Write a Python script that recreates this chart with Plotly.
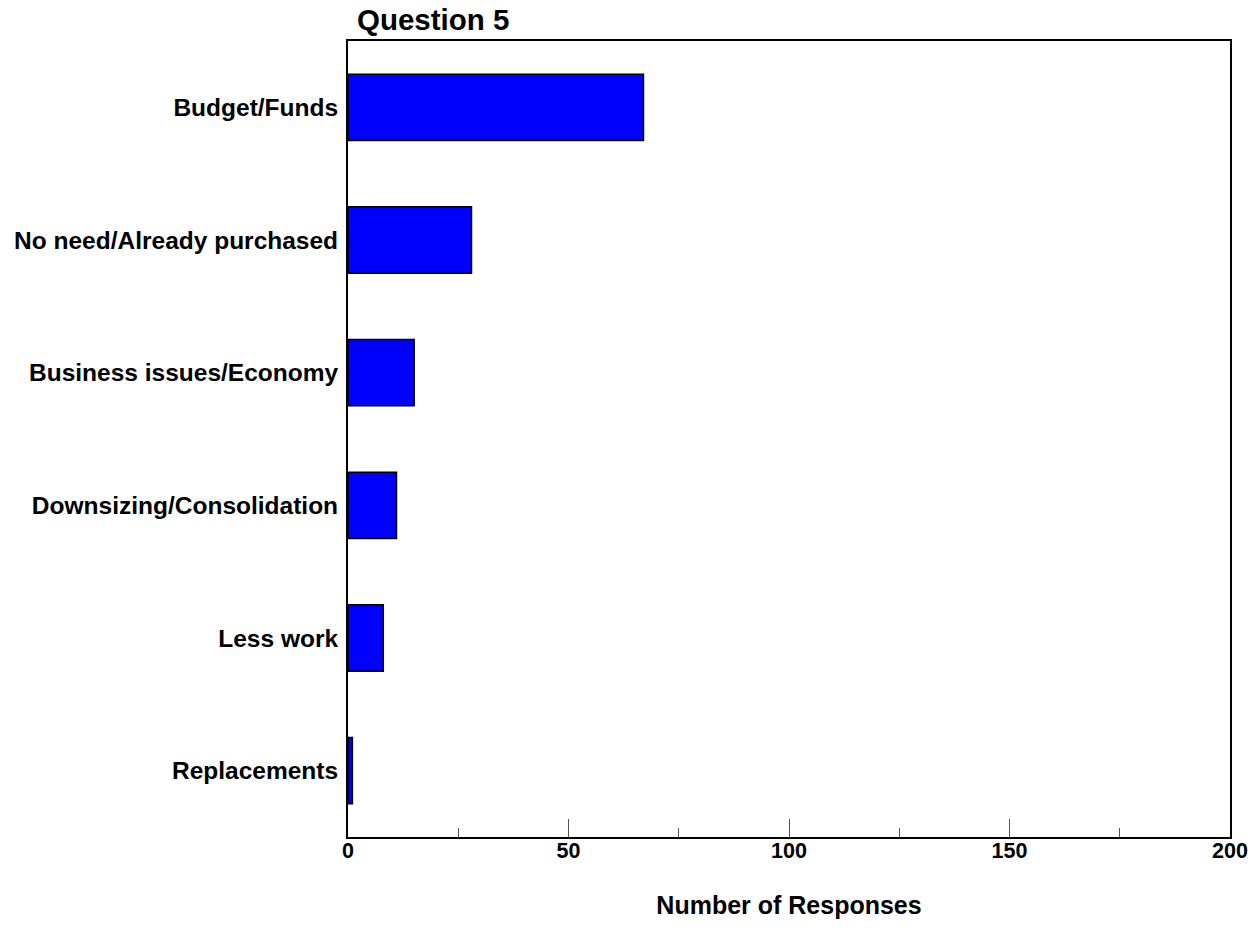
import plotly.graph_objects as go

categories = [
    "Budget/Funds",
    "No need/Already purchased",
    "Business issues/Economy",
    "Downsizing/Consolidation",
    "Less work",
    "Replacements",
]
responses = [67, 28, 15, 11, 8, 1]
x_ticks = [0, 50, 100, 150, 200]

font_family = "Liberation Sans, Arial, sans-serif"

fig = go.Figure(
    go.Bar(
        x=responses,
        y=categories,
        orientation="h",
        width=0.5,
        marker=dict(color="#0000FF", line=dict(color="black", width=1.5)),
    )
)

fig.update_layout(
    width=1258,
    height=948,
    margin=dict(l=348, r=28, t=41, b=111),
    plot_bgcolor="white",
    paper_bgcolor="white",
    showlegend=False,
    font=dict(family=font_family, color="black"),
    title=dict(
        text="<b>Question 5</b>",
        x=357 / 1258,
        xanchor="left",
        y=1 - 20 / 948,
        yanchor="middle",
        font=dict(size=29.5, family=font_family, color="black"),
    ),
)

fig.update_xaxes(
    range=[0, 200],
    tickvals=x_ticks,
    ticktext=[f"<b>{v}</b>" for v in x_ticks],
    tickfont=dict(size=21.5, family=font_family, color="black"),
    ticks="inside",
    ticklen=18,
    tickwidth=1,
    tickcolor="#555555",
    minor=dict(ticks="inside", ticklen=9, dtick=25, tick0=0, tickcolor="#555555", tickwidth=1, showgrid=False),
    ticklabelstandoff=-7,
    automargin=False,
    showgrid=False,
    zeroline=False,
    showline=True,
    linecolor="black",
    linewidth=2,
    mirror=True,
    title=dict(
        text="<b>Number of Responses</b>",
        font=dict(size=25, family=font_family, color="black"),
        standoff=35,
    ),
)

fig.update_yaxes(
    categoryorder="array",
    categoryarray=categories[::-1],
    ticktext=[f"<b>{c}</b>" for c in categories],
    tickvals=categories,
    tickfont=dict(size=24.5, family=font_family, color="black"),
    ticks="",
    ticklabelstandoff=3,
    automargin=False,
    showgrid=False,
    zeroline=False,
    showline=True,
    linecolor="black",
    linewidth=2,
    mirror=True,
)

fig.write_html("out.html")
